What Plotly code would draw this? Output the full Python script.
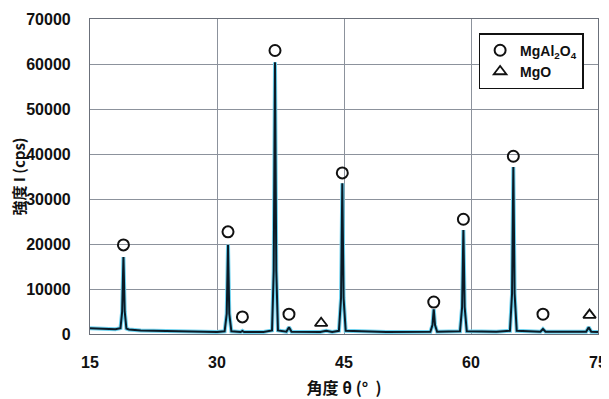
import plotly.graph_objects as go

# XRD pattern (2theta in degrees, intensity in cps)
two_theta = [15.0, 16.5, 18.0, 18.6, 18.8, 18.95, 19.1, 19.3, 19.6, 21.0, 24.0, 27.0, 30.0,
             30.9, 31.15, 31.3, 31.45, 31.7, 32.8, 33.0, 33.2, 35.5,
             36.5, 36.7, 36.85, 37.0, 37.2, 38.2, 38.5, 38.8, 42.2, 42.9, 43.6,
             44.4, 44.65, 44.8, 44.95, 45.2, 50.0, 55.2, 55.45, 55.6, 55.75, 56.0,
             58.7, 58.95, 59.1, 59.25, 59.5, 63.0, 64.6, 64.85, 65.0, 65.15, 65.4,
             68.2, 68.5, 68.8, 73.6, 73.9, 74.2, 75.0]
intensity = [1300, 1200, 1050, 1300, 5000, 17100, 5000, 1200, 1000, 800, 650, 550, 450,
             600, 4500, 19800, 4500, 600, 450, 700, 450, 450,
             800, 14000, 60400, 14000, 800, 500, 1500, 500, 450, 700, 450,
             700, 8000, 33500, 8000, 700, 450, 500, 2000, 5500, 2000, 500,
             600, 6000, 23100, 6000, 600, 500, 700, 9000, 37100, 9000, 700,
             500, 1100, 500, 500, 1500, 500, 450]

# peak identification markers
spinel_x = [18.95, 31.3, 33.0, 36.85, 38.5, 44.8, 55.6, 59.1, 65.0, 68.5]
spinel_y = [19800, 22700, 3800, 63000, 4400, 35800, 7100, 25500, 39500, 4400]
mgo_x = [42.3, 74.0]
mgo_y = [2400, 4200]

x_ticks = [15, 30, 45, 60, 75]
y_ticks = [0, 10000, 20000, 30000, 40000, 50000, 60000, 70000]

fig = go.Figure()
fig.add_trace(go.Scatter(x=two_theta, y=intensity, mode="lines",
                         line=dict(color="#6fd3f0", width=4), showlegend=False, hoverinfo="skip"))
fig.add_trace(go.Scatter(x=two_theta, y=intensity, mode="lines",
                         line=dict(color="#0b1a26", width=2), showlegend=False))
fig.add_trace(go.Scatter(x=spinel_x, y=spinel_y, mode="markers", name="<b>MgAl<sub>2</sub>O<sub>4</sub></b>",
                         marker=dict(symbol="circle-open", size=11, color="#111111",
                                     line=dict(width=2, color="#111111"))))
fig.add_trace(go.Scatter(x=mgo_x, y=mgo_y, mode="markers", name="<b>MgO</b>",
                         marker=dict(symbol="triangle-up-open", size=11, color="#111111",
                                     line=dict(width=1.8, color="#111111"))))

tick_font = dict(family="Liberation Sans, Arial, sans-serif", size=16, color="#111111")
title_font = dict(family="Noto Sans CJK JP, sans-serif", size=15, color="#111111")

# page has an 8px body margin, so the figure is offset by 8px
fig.update_layout(
    width=601, height=391,
    margin=dict(l=82, r=11, t=11, b=65),
    paper_bgcolor="white", plot_bgcolor="white",
    showlegend=True,
    legend=dict(x=0.765, y=0.955, xanchor="left", yanchor="top",
                bgcolor="white", bordercolor="#111111", borderwidth=1.5,
                font=dict(family="Liberation Sans, Arial, sans-serif", size=14, color="#111111"),
                tracegroupgap=0, itemwidth=30),
    xaxis=dict(range=[15, 75], tickvals=x_ticks, ticktext=[f"<b>{v}</b>" for v in x_ticks],
               showgrid=True, gridcolor="#8c929c", gridwidth=1,
               showline=True, linecolor="#6b707a", linewidth=1.2, mirror=True,
               ticks="", tickfont=tick_font, ticklabelstandoff=14, zeroline=False,
               automargin=False, ticklabeloverflow="allow",
               title=dict(text="<b>角度 θ (°  )</b>", font=dict(title_font, size=16), standoff=12)),
    yaxis=dict(range=[0, 70000], tickvals=y_ticks, ticktext=[f"<b>{v}</b>" for v in y_ticks],
               showgrid=True, gridcolor="#8c929c", gridwidth=1,
               showline=True, linecolor="#6b707a", linewidth=1.2, mirror=True,
               ticks="", tickfont=tick_font, ticklabelstandoff=15, zeroline=False,
               automargin=False,
               title=dict(text="<b>強度 I (cps)</b>", font=title_font, standoff=10)),
)

fig.write_html("out.html")
